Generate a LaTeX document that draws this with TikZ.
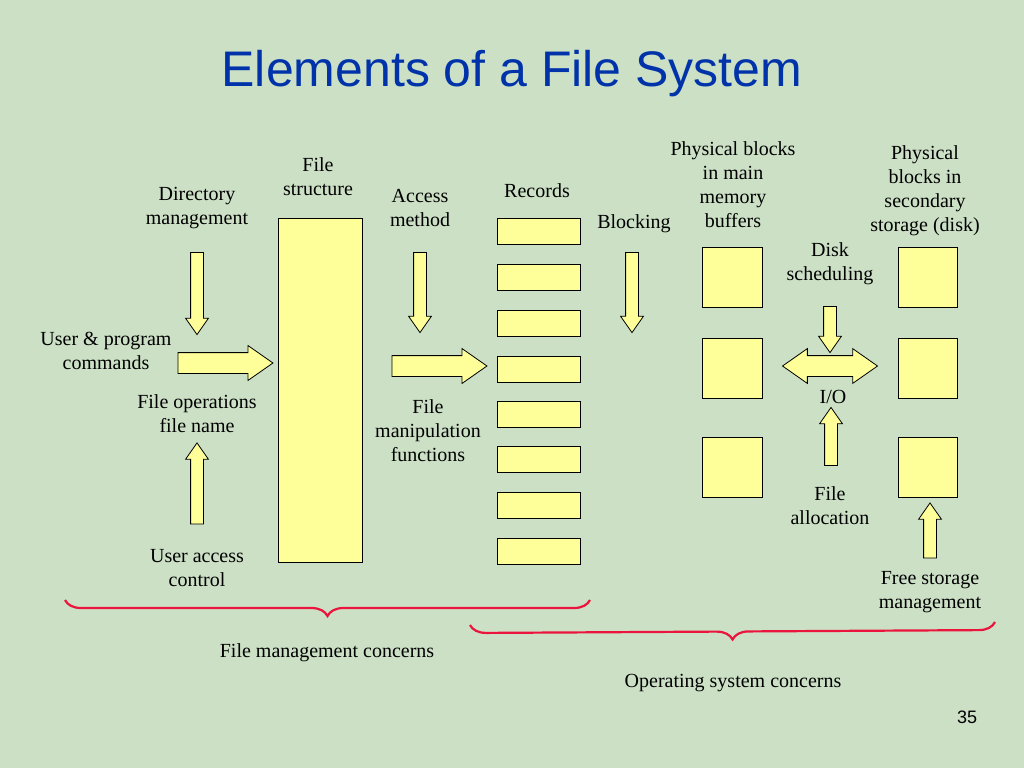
\documentclass[tikz,border=0pt]{standalone}
\usepackage{fontspec}
\setmainfont{Liberation Serif}
\newfontfamily\titlefont{Liberation Sans}
\usetikzlibrary{shapes.arrows,decorations.pathreplacing}
\definecolor{slidebg}{RGB}{204,224,198}
\definecolor{titleblue}{RGB}{0,51,170}
\definecolor{boxyellow}{RGB}{255,255,153}
\definecolor{bracered}{RGB}{235,20,60}
\begin{document}
\begin{tikzpicture}[x=1pt,y=-1pt]
\tikzstyle{lbl}=[font=\fontsize{20}{24}\selectfont,align=center,inner sep=0pt]
\tikzstyle{box}=[draw=black,fill=boxyellow,line width=0.8pt]
\tikzstyle{blk}=[box,single arrow,single arrow head extend=5pt,inner xsep=0pt,inner ysep=6pt,single arrow tip angle=70]
\tikzstyle{wblk}=[blk,inner ysep=10pt,single arrow head extend=7pt]
\tikzstyle{dblk}=[box,double arrow,double arrow head extend=7pt,inner xsep=0pt,inner ysep=10pt,double arrow tip angle=70]
\tikzstyle{brc}=[draw=bracered,line width=2.2pt,decorate,decoration={brace,mirror,amplitude=16pt}]
\fill [slidebg] (0,0) rectangle (1024,768);
\useasboundingbox (0,0) rectangle (1024,768);
\node [font=\titlefont\fontsize{50}{52}\selectfont,text=titleblue] (title) at (512,74) {Elements of a File System};
% file management side
\node [lbl] (dirm) at (197,208) {Directory\\management};
\node [blk,minimum height=82pt,rotate=-90] (adir) at (197,289) {};
\node [lbl] (fstr) at (318,177) {File\\structure};
\draw [box] (278,218) rectangle (362,562);
\node [lbl] (accm) at (420,208) {Access\\method};
\node [blk,minimum height=80pt,rotate=-90] (aacc) at (420,288) {};
\node [lbl] (recs) at (537,191) {Records};
\foreach \y in {218,264,310,356,401,446,492,538}
  \draw [box] (497,\y) rectangle (580,\y+26);
\node [lbl] (blkg) at (634,224) {Blocking};
\node [blk,minimum height=80pt,rotate=-90] (ablk) at (632,288) {};
\node [lbl] (upc) at (106,351) {User \& program\\commands};
\node [wblk,minimum height=95pt] (acmd) at (218,363) {};
\node [wblk,minimum height=95pt] (afun) at (432,366) {};
\node [lbl] (fops) at (197,414) {File operations\\file name};
\node [blk,minimum height=81pt,rotate=90] (auac) at (197,488) {};
\node [lbl] (fman) at (428,431) {File\\manipulation\\functions};
\node [lbl] (uac) at (197,568) {User access\\control};
% operating system side
\node [lbl] (pbm) at (733,185) {Physical blocks\\in main\\memory\\buffers};
\node [lbl] (pbd) at (925,191) {Physical\\blocks in\\secondary\\storage (disk)};
\foreach \y in {247,338,437} {
  \draw [box] (702,\y) rectangle (762,\y+60);
  \draw [box] (898,\y) rectangle (957,\y+60);
}
\node [lbl] (dsch) at (830,264) {Disk\\scheduling};
\node [blk,minimum height=46pt,rotate=-90] (adsk) at (830,325) {};
\node [dblk,minimum height=95pt] (aio) at (830,366) {};
\node [lbl] (io) at (833,397) {I/O};
\node [blk,minimum height=58pt,rotate=90] (aall) at (831,441) {};
\node [lbl] (falc) at (830,506) {File\\allocation};
\node [blk,minimum height=55pt,rotate=90] (afre) at (930,535) {};
\node [lbl] (fsm) at (930,592) {Free storage\\management};
% braces
\coordinate (b1l) at (65,600);
\coordinate (b1r) at (590,600);
\coordinate (b2l) at (470,625);
\coordinate (b2r) at (995,622);
\draw [brc] (b1l) -- (b1r);
\draw [brc] (b2l) -- (b2r);
\node [lbl] (fmc) at (327,653) {File management concerns};
\node [lbl] (osc) at (733,683) {Operating system concerns};
\node [font=\titlefont\fontsize{18}{20}\selectfont] (pg) at (967,717) {35};
\end{tikzpicture}
\end{document}
